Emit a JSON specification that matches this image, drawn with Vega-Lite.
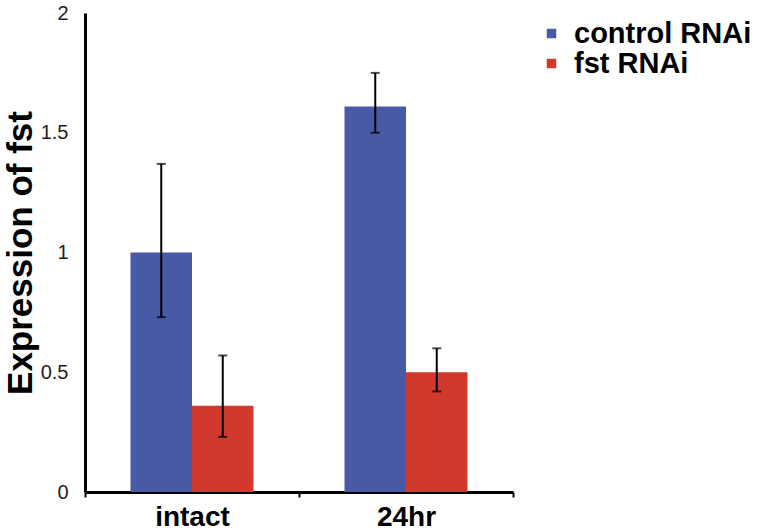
{
  "$schema": "https://vega.github.io/schema/vega-lite/v6.json",
  "width": 428,
  "height": 479,
  "autosize": "none",
  "padding": {"left": 85, "top": 13, "right": 265, "bottom": 38},
  "config": {"view": {"stroke": null}, "font": "Liberation Sans"},
  "data": {
    "values": [
      {"group": "intact", "condition": "control RNAi", "mean": 1.0, "lo": 0.73, "hi": 1.37},
      {"group": "intact", "condition": "fst RNAi", "mean": 0.36, "lo": 0.23, "hi": 0.57},
      {"group": "24hr", "condition": "control RNAi", "mean": 1.61, "lo": 1.5, "hi": 1.75},
      {"group": "24hr", "condition": "fst RNAi", "mean": 0.5, "lo": 0.42, "hi": 0.6}
    ]
  },
  "encoding": {
    "x": {
      "field": "group", "type": "nominal", "sort": ["intact", "24hr"],
      "scale": {"paddingInner": 0, "paddingOuter": 0},
      "axis": {
        "title": null, "labelAngle": 0, "labelFontSize": 28, "labelFontWeight": "bold",
        "labelColor": "black", "labelPadding": 6, "tickBand": "extent", "tickSize": 5,
        "tickWidth": 2, "tickColor": "black", "domainWidth": 3, "domainColor": "black"
      }
    },
    "xOffset": {
      "field": "condition", "type": "nominal", "sort": ["control RNAi", "fst RNAi"],
      "scale": {"paddingInner": 0, "paddingOuter": 0.74}
    }
  },
  "layer": [
    {
      "mark": {"type": "bar"},
      "encoding": {
        "y": {
          "field": "mean", "type": "quantitative", "scale": {"domain": [0, 2], "nice": false},
          "axis": {
            "title": "Expression of fst", "titleFontSize": 35, "titleFontWeight": "bold",
            "titleColor": "black", "titlePadding": 2, "values": [0, 0.5, 1, 1.5, 2],
            "labelExpr": "datum.value + ''", "labelFontSize": 20, "labelColor": "#222",
            "labelFontWeight": "normal", "labelPadding": 17, "ticks": false, "grid": false,
            "domainWidth": 3, "domainColor": "black"
          }
        },
        "color": {
          "field": "condition", "type": "nominal", "sort": ["control RNAi", "fst RNAi"],
          "scale": {"range": ["#4859A6", "#D0392B"]},
          "legend": {
            "title": null, "orient": "none", "legendX": 452, "legendY": 6, "symbolType": "square",
            "symbolSize": 90, "symbolStrokeWidth": 0, "labelFontSize": 29, "labelFontWeight": "bold",
            "labelColor": "black", "labelOffset": 8, "rowPadding": 0, "labelLimit": 400
          }
        }
      }
    },
    {
      "mark": {"type": "rule", "color": "black", "strokeWidth": 2},
      "encoding": {
        "y": {"field": "lo", "type": "quantitative"},
        "y2": {"field": "hi"}
      }
    },
    {
      "mark": {"type": "tick", "color": "black", "thickness": 2, "size": 9, "orient": "horizontal"},
      "encoding": {"y": {"field": "lo", "type": "quantitative"}}
    },
    {
      "mark": {"type": "tick", "color": "black", "thickness": 2, "size": 9, "orient": "horizontal"},
      "encoding": {"y": {"field": "hi", "type": "quantitative"}}
    }
  ]
}
